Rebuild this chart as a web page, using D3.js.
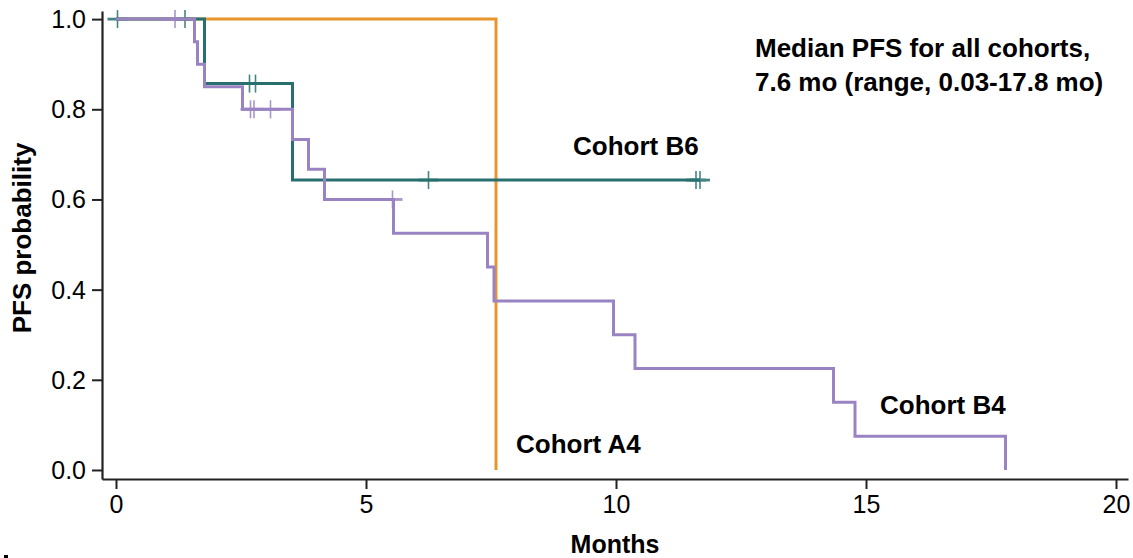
<!DOCTYPE html>
<html>
<head>
<meta charset="utf-8">
<script src="https://cdn.jsdelivr.net/npm/d3@7"></script>
<style>
  html, body { margin: 0; padding: 0; background: #fff; }
  svg { display: block; }
  text { font-family: "Liberation Sans", Arial, sans-serif; fill: #000; }
</style>
</head>
<body>
<div id="chart"></div>
<script>
// Kaplan-Meier steps (months, PFS probability)
const a4Times = [0, 7.6];
const a4Surv = [1, 0];
const a4Censor = [];
const a4End = 7.6;

const b6Times = [0, 1.77, 3.53];
const b6Surv = [1, 0.857, 0.643];
const b6Censor = [0.03, 1.38, 2.67, 2.79, 6.25, 11.6, 11.68];
const b6End = 11.68;

const b4Times = [0, 1.57, 1.63, 1.77, 2.53, 3.53, 3.85, 4.17, 5.55, 7.43, 7.56, 9.95, 10.38, 14.35, 14.78, 17.79];
const b4Surv = [1, 0.95, 0.9, 0.85, 0.8, 0.733, 0.667, 0.6, 0.525, 0.45, 0.375, 0.3, 0.225, 0.15, 0.075, 0];
const b4Censor = [1.18, 2.69, 2.76, 3.09, 5.53];
const b4End = 17.79;

const xTicks = [0, 5, 10, 15, 20];
const yTicks = [0, 0.2, 0.4, 0.6, 0.8, 1.0];

const W = 1133, H = 558;

const svg = d3.select("#chart").append("svg")
  .attr("width", W).attr("height", H);

const x = d3.scaleLinear().domain([-0.28, 20.24]).range([102, 1128]);
const y = d3.scaleLinear().domain([-0.02, 1.018]).range([479, 11]);

const stepAt = (times, surv, t) => {
  let s = surv[0];
  for (let i = 0; i < times.length; i++) if (times[i] <= t) s = surv[i];
  return s;
};

const curves = [
  { times: a4Times, surv: a4Surv, censor: a4Censor, end: a4End, color: "#e8952c" },
  { times: b6Times, surv: b6Surv, censor: b6Censor, end: b6End, color: "#27706f" },
  { times: b4Times, surv: b4Surv, censor: b4Censor, end: b4End, color: "#9a83c2" }
];

const line = d3.line().x(d => x(d[0])).y(d => y(d[1])).curve(d3.curveStepAfter);

curves.forEach(c => {
  const pts = c.times.map((t, i) => [t, c.surv[i]]);
  if (c.end > c.times[c.times.length - 1]) pts.push([c.end, c.surv[c.surv.length - 1]]);
  svg.append("path")
    .attr("d", line(pts))
    .attr("fill", "none")
    .attr("stroke", c.color)
    .attr("stroke-width", 3);

  const g = svg.append("g").attr("stroke", c.color).attr("stroke-width", 1.6).attr("opacity", 0.85);
  c.censor.forEach(t => {
    const cx = x(t), cy = y(stepAt(c.times, c.surv, t));
    g.append("line").attr("x1", cx).attr("x2", cx).attr("y1", cy - 9).attr("y2", cy + 9);
    g.append("line").attr("x1", cx - 10).attr("x2", cx + 10).attr("y1", cy).attr("y2", cy)
      .attr("stroke-width", 2.8);
  });
});

// axes
const styleAxis = g => {
  g.select(".domain").attr("stroke", "#222").attr("stroke-width", 2.2);
  g.selectAll(".tick line").attr("stroke", "#222").attr("stroke-width", 2);
  g.selectAll(".tick text")
    .style("font-family", "'Liberation Sans', Arial, sans-serif")
    .style("font-size", "25px").attr("fill", "#000");
};

svg.append("g")
  .attr("transform", `translate(0,${y(-0.02)})`)
  .call(d3.axisBottom(x).tickValues(xTicks).tickSize(10).tickSizeOuter(0).tickPadding(6))
  .call(styleAxis);

svg.append("g")
  .attr("transform", `translate(${x(-0.28)},0)`)
  .call(d3.axisLeft(y).tickValues(yTicks).tickFormat(d3.format(".1f")).tickSize(10).tickSizeOuter(0).tickPadding(6))
  .call(styleAxis)
  .call(g => g.selectAll(".tick text").attr("dy", "0.34em"));

// axis titles
svg.append("text")
  .attr("transform", "translate(31,238) rotate(-90)")
  .attr("text-anchor", "middle")
  .style("font-size", "26px").style("font-weight", "bold")
  .text("PFS probability");

svg.append("text")
  .attr("x", 615).attr("y", 553)
  .attr("text-anchor", "middle")
  .style("font-size", "25px").style("font-weight", "bold")
  .text("Months");

// annotations
const label = (tx, ty, s) => svg.append("text")
  .attr("x", tx).attr("y", ty)
  .style("font-size", "26px").style("font-weight", "bold")
  .text(s);

label(755, 57, "Median PFS for all cohorts,");
label(755, 91, "7.6 mo (range, 0.03-17.8 mo)");
label(573, 155, "Cohort B6");
label(880, 414, "Cohort B4");
label(516, 453, "Cohort A4");

svg.append("rect").attr("x", 4).attr("y", 555).attr("width", 4).attr("height", 3).attr("fill", "#000");
</script>
</body>
</html>
